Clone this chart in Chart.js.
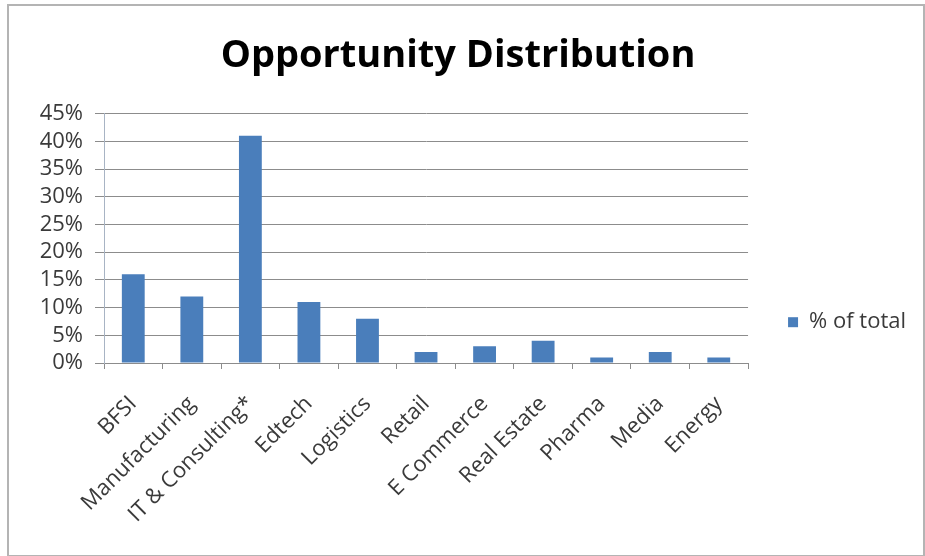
<!DOCTYPE html>
<html>
<head>
<meta charset="utf-8">
<script src="https://cdn.jsdelivr.net/npm/chart.js@4.4.0/dist/chart.umd.min.js"></script>
<style>
    html, body { margin: 0; padding: 0; background: #fff; }
    #wrap { position: relative; width: 925px; height: 556px; }
    #frame { position: absolute; left: 7px; top: 4px; width: 914px; height: 549px; border: 2px solid #b4b4b4; pointer-events: none; }
</style>
</head>
<body>
<div id="wrap">
    <canvas id="chart" width="925" height="556"></canvas>
    <div id="frame"></div>
</div>
<script>
const categories = ['BFSI', 'Manufacturing', 'IT & Consulting*', 'Edtech', 'Logistics', 'Retail', 'E Commerce', 'Real Estate', 'Pharma', 'Media', 'Energy'];
const shareOfTotal = [0.16, 0.12, 0.41, 0.11, 0.08, 0.02, 0.03, 0.04, 0.01, 0.02, 0.01];
const seriesName = '% of total';
const yTicks = [0, 0.05, 0.10, 0.15, 0.20, 0.25, 0.30, 0.35, 0.40, 0.45];

document.addEventListener('DOMContentLoaded', () => {
    const font = 'Open Sans';
    const ink = '#3a3a3a';

    new Chart(document.getElementById('chart'), {
        type: 'bar',
        data: {
            labels: categories,
            datasets: [{
                label: seriesName,
                data: shareOfTotal,
                backgroundColor: '#4a7ebb',
                categoryPercentage: 1,
                barPercentage: 0.39
            }]
        },
        options: {
            responsive: false,
            animation: false,
            layout: { padding: { left: 0, right: 9, top: 6, bottom: 0 } },
            plugins: {
                title: {
                    display: true,
                    text: 'Opportunity Distribution',
                    color: '#000',
                    font: { family: font, size: 38, weight: 'bold' },
                    padding: { top: 27, bottom: 35 }
                },
                legend: {
                    position: 'right',
                    // empty title only pushes the single item down to where Excel put it
                    title: { display: true, text: '', padding: { top: 0, bottom: 68 } },
                    labels: {
                        color: ink,
                        font: { family: font, size: 22 },
                        boxWidth: 10,
                        boxHeight: 10,
                        padding: 40
                    }
                },
                tooltip: { enabled: false }
            },
            scales: {
                x: {
                    grid: { offset: true, drawOnChartArea: false, tickLength: 6, color: '#8c8c8c' },
                    border: { color: '#8c8c8c' },
                    ticks: {
                        color: ink,
                        font: { family: font, size: 22 },
                        minRotation: 45,
                        maxRotation: 45,
                        padding: 22,
                        autoSkip: false
                    },
                    afterFit: (scale) => { scale.height = 193; }
                },
                y: {
                    min: 0,
                    max: 0.45,
                    afterBuildTicks: (scale) => { scale.ticks = yTicks.map(v => ({ value: v })); },
                    grid: { color: '#8c8c8c', tickLength: 9 },
                    border: { color: '#a8b4c4' },
                    ticks: {
                        color: ink,
                        font: { family: font, size: 22 },
                        padding: 12,
                        autoSkip: false,
                        callback: (v) => Math.round(v * 100) + '%'
                    },
                    afterFit: (scale) => { scale.width = 104; }
                }
            }
        }
    });
});
</script>
</body>
</html>
